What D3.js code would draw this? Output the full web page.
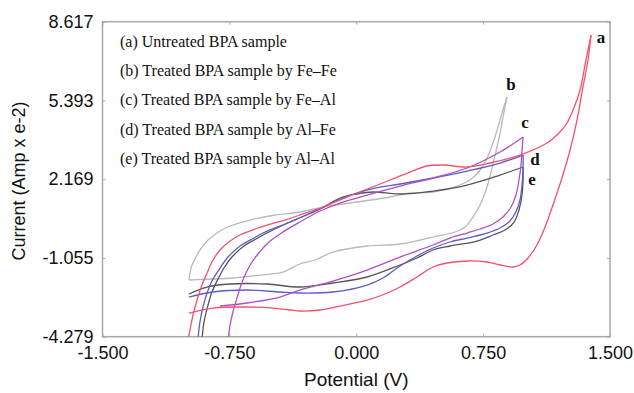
<!DOCTYPE html>
<html>
<head>
<meta charset="utf-8">
<script src="https://cdn.jsdelivr.net/npm/d3@7"></script>
<style>
  html, body { margin: 0; padding: 0; background: #fff; }
  svg { display: block; }
</style>
</head>
<body>
<svg id="chart" width="634" height="393"></svg>
<script>
// ---------- DATA ----------
const xTicks = [-1.5, -0.75, 0, 0.75, 1.5];
const xTickLabels = ["-1.500", "-0.750", "0.000", "0.750", "1.500"];
const yTicks = [-4.279, -1.055, 2.169, 5.393, 8.617];
const yTickLabels = ["-4.279", "-1.055", "2.169", "5.393", "8.617"];

const seriesNames = ["a", "b", "c", "d", "e"];
const legendLabels = [
  "(a) Untreated BPA sample",
  "(b) Treated BPA sample by Fe\u2013Fe",
  "(c) Treated BPA sample by Fe\u2013Al",
  "(d) Treated BPA sample by Al\u2013Fe",
  "(e) Treated BPA sample by Al\u2013Al"
];

// (potential V, current) – forward (upper) and reverse (lower) scans
const aForward = [[-0.995,-4.415],[-0.983,-4.005],[-0.965,-3.391],[-0.941,-2.777],[-0.912,-2.163],[-0.882,-1.672],[-0.847,-1.139],[-0.805,-0.730],[-0.746,-0.362],[-0.687,-0.116],[-0.599,0.130],[-0.528,0.293],[-0.421,0.498],[-0.333,0.703],[-0.197,1.030],[-0.096,1.317],[0.004,1.604],[0.111,1.890],[0.200,2.136],[0.318,2.463],[0.418,2.709],[0.513,2.750],[0.655,2.668],[0.791,2.832],[0.968,3.159],[1.128,3.651],[1.204,4.101],[1.246,4.469],[1.293,5.206],[1.323,5.820],[1.358,7.049],[1.388,8.072]];
const aReverse = [[1.388,8.072],[1.370,7.049],[1.340,5.943],[1.305,4.592],[1.264,3.364],[1.216,2.218],[1.163,1.112],[1.116,0.212],[1.068,-0.525],[1.015,-1.058],[0.968,-1.344],[0.927,-1.426],[0.850,-1.344],[0.773,-1.221],[0.655,-1.180],[0.536,-1.262],[0.454,-1.426],[0.359,-1.835],[0.259,-2.245],[0.170,-2.531],[0.064,-2.777],[-0.096,-3.023],[-0.214,-3.186],[-0.333,-3.227],[-0.492,-3.105],[-0.646,-3.064],[-0.847,-3.105],[-0.989,-3.309]];

const bForward = [[-0.989,-1.958],[-0.983,-1.672],[-0.971,-1.344],[-0.947,-1.017],[-0.924,-0.730],[-0.876,-0.321],[-0.823,-0.034],[-0.746,0.253],[-0.628,0.498],[-0.480,0.703],[-0.333,0.826],[-0.197,1.030],[0.004,1.235],[0.200,1.440],[0.318,1.604],[0.454,1.645],[0.554,1.808],[0.613,1.931],[0.672,2.136],[0.732,2.545],[0.773,3.036],[0.808,3.651],[0.838,4.306],[0.867,5.002],[0.891,5.534]];
const bReverse = [[0.891,5.534],[0.873,4.920],[0.850,4.060],[0.814,2.955],[0.773,1.849],[0.732,1.112],[0.690,0.621],[0.643,0.212],[0.584,0.007],[0.454,-0.198],[0.259,-0.484],[0.064,-0.566],[-0.138,-0.812],[-0.244,-1.139],[-0.333,-1.303],[-0.433,-1.631],[-0.569,-1.754],[-0.729,-1.876],[-0.847,-1.917],[-0.989,-1.958]];

const cForward = [[-0.758,-4.415],[-0.746,-3.801],[-0.729,-3.268],[-0.705,-2.695],[-0.681,-2.163],[-0.652,-1.672],[-0.616,-1.221],[-0.581,-0.894],[-0.522,-0.443],[-0.451,-0.075],[-0.333,0.416],[-0.214,0.867],[-0.096,1.194],[0.064,1.522],[0.259,1.890],[0.454,2.218],[0.655,2.627],[0.850,3.282],[0.986,3.896]];
const cReverse = [[0.986,3.896],[0.980,3.364],[0.974,2.750],[0.962,2.136],[0.944,1.522],[0.915,1.030],[0.867,0.621],[0.808,0.334],[0.732,0.130],[0.655,-0.034],[0.554,-0.239],[0.454,-0.525],[0.259,-1.017],[0.064,-1.549],[-0.138,-1.999],[-0.333,-2.368],[-0.451,-2.654],[-0.646,-2.900],[-0.805,-3.023]];

const dForward = [[-0.936,-4.415],[-0.924,-3.678],[-0.906,-3.064],[-0.882,-2.490],[-0.853,-1.999],[-0.805,-1.467],[-0.758,-1.017],[-0.687,-0.566],[-0.616,-0.280],[-0.551,-0.034],[-0.392,0.416],[-0.214,0.949],[-0.096,1.358],[0.004,1.604],[0.111,1.808],[0.259,1.972],[0.454,2.218],[0.655,2.504],[0.850,2.832],[0.986,3.159]];
const dReverse = [[0.986,3.159],[0.986,2.545],[0.980,1.931],[0.968,1.317],[0.944,0.826],[0.903,0.416],[0.850,0.171],[0.773,-0.034],[0.655,-0.239],[0.554,-0.402],[0.454,-0.648],[0.359,-0.976],[0.259,-1.385],[0.158,-1.876],[0.064,-2.163],[-0.138,-2.449],[-0.333,-2.490],[-0.451,-2.449],[-0.646,-2.368],[-0.847,-2.449],[-0.989,-2.654]];

const eForward = [[-0.912,-4.415],[-0.900,-3.678],[-0.876,-2.982],[-0.853,-2.449],[-0.823,-1.999],[-0.782,-1.467],[-0.735,-1.017],[-0.664,-0.566],[-0.593,-0.280],[-0.528,-0.034],[-0.392,0.416],[-0.214,0.949],[-0.096,1.399],[0.004,1.563],[0.099,1.645],[0.259,1.563],[0.454,1.685],[0.655,1.931],[0.850,2.340],[0.986,2.668]];
const eReverse = [[0.986,2.668],[0.986,2.136],[0.980,1.522],[0.962,0.908],[0.933,0.416],[0.879,0.089],[0.808,-0.116],[0.714,-0.362],[0.554,-0.566],[0.454,-0.730],[0.359,-1.058],[0.259,-1.344],[0.064,-1.835],[-0.138,-2.081],[-0.333,-2.245],[-0.528,-2.122],[-0.746,-2.122],[-0.882,-2.245],[-0.989,-2.531]];

// curve label anchors (data coords)
const curveLabelPos = [[1.447,7.745],[0.915,5.820],[0.998,4.265],[1.057,2.750],[1.039,1.930]];

// ---------- CHART ----------
const W = 634, H = 393;
const m = {left: 102.5, right: 24, top: 21.7, bottom: 56.3};
const iw = W - m.left - m.right, ih = H - m.top - m.bottom;

const colors = {a: "#f5506c", b: "#b9b9b9", c: "#b24ec0", d: "#5a5ccc", e: "#555555"};
const seriesData = {
  a: [aForward, aReverse], b: [bForward, bReverse], c: [cForward, cReverse],
  d: [dForward, dReverse], e: [eForward, eReverse]
};

const svg = d3.select("#chart");
const x = d3.scaleLinear().domain([-1.5, 1.5]).range([0, iw]);
const y = d3.scaleLinear().domain([-4.279, 8.617]).range([ih, 0]);

const g = svg.append("g").attr("transform", `translate(${m.left},${m.top})`);

g.append("defs").append("clipPath").attr("id", "clip")
  .append("rect").attr("x", 0).attr("y", 0).attr("width", iw).attr("height", ih);

// frame
g.append("rect").attr("x", 0).attr("y", 0).attr("width", iw).attr("height", ih)
  .attr("fill", "none").attr("stroke", "#a8a8a8").attr("stroke-width", 1.5);

const fmtX = (d, i) => xTickLabels[i];
const fmtY = (d, i) => yTickLabels[i];

const axStyle = sel => {
  sel.select(".domain").remove();
  sel.selectAll(".tick line").attr("stroke", "#a8a8a8").attr("stroke-width", 1);
  sel.selectAll("text").attr("fill", "#111")
    .style("font-family", "'Liberation Sans', Arial, sans-serif").style("font-size", "18px");
};

g.append("g").attr("transform", `translate(0,${ih})`)
  .call(d3.axisBottom(x).tickValues(xTicks).tickFormat(fmtX).tickSizeInner(-3).tickSizeOuter(0).tickPadding(10))
  .call(axStyle);
g.append("g")
  .call(d3.axisLeft(y).tickValues(yTicks).tickFormat(fmtY).tickSizeInner(-3).tickSizeOuter(0).tickPadding(9))
  .call(axStyle);
g.append("g")
  .call(d3.axisTop(x).tickValues(xTicks).tickFormat("").tickSizeInner(-3).tickSizeOuter(0))
  .call(axStyle);
g.append("g").attr("transform", `translate(${iw},0)`)
  .call(d3.axisRight(y).tickValues(yTicks).tickFormat("").tickSizeInner(-3).tickSizeOuter(0))
  .call(axStyle);

// curves
const line = d3.line().x(d => x(d[0])).y(d => y(d[1])).curve(d3.curveCatmullRom.alpha(0.5));
const plot = g.append("g").attr("clip-path", "url(#clip)");
["b", "e", "d", "c", "a"].forEach(k => {
  seriesData[k].forEach(branch => {
    plot.append("path").datum(branch).attr("d", line)
      .attr("fill", "none").attr("stroke", colors[k]).attr("stroke-width", 1.3);
  });
});

// curve labels
g.selectAll(".clab").data(seriesNames).enter().append("text")
  .attr("x", (d, i) => x(curveLabelPos[i][0]))
  .attr("y", (d, i) => y(curveLabelPos[i][1]))
  .attr("text-anchor", "middle")
  .style("font-family", "'Liberation Serif', 'Times New Roman', serif")
  .style("font-weight", "bold").style("font-size", "17px").attr("fill", "#111")
  .text(d => d);

// legend text
g.selectAll(".leg").data(legendLabels).enter().append("text")
  .attr("x", 120 - m.left)
  .attr("y", (d, i) => 47 + i * 29.2 - m.top)
  .style("font-family", "'Liberation Serif', 'Times New Roman', serif")
  .style("font-size", "16px").attr("fill", "#111")
  .text(d => d);

// axis titles
svg.append("text")
  .attr("x", m.left + iw / 2).attr("y", 386)
  .attr("text-anchor", "middle")
  .style("font-family", "'Liberation Sans', Arial, sans-serif").style("font-size", "19px")
  .attr("fill", "#111").text("Potential (V)");
svg.append("text")
  .attr("transform", "translate(25,181) rotate(-90)")
  .attr("text-anchor", "middle")
  .style("font-family", "'Liberation Sans', Arial, sans-serif").style("font-size", "18px")
  .attr("fill", "#111").text("Current (Amp x e-2)");
</script>
</body>
</html>
